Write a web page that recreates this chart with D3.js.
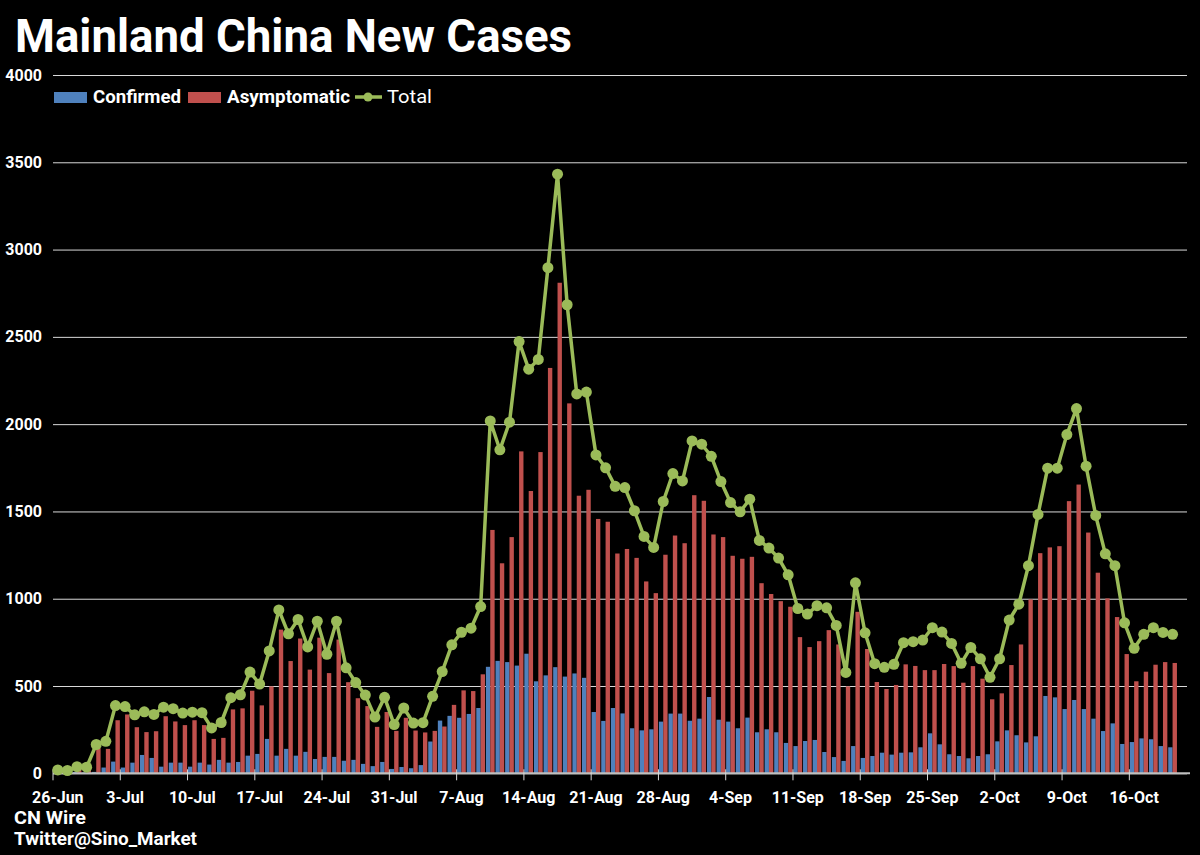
<!DOCTYPE html>
<html>
<head>
<meta charset="utf-8">
<script src="https://cdn.jsdelivr.net/npm/d3@7"></script>
<style>
  html, body { margin: 0; padding: 0; background: #000; }
  svg { display: block; font-family: Roboto, "Noto Sans", sans-serif; }
</style>
</head>
<body>
<div class="panel"></div>
<script>
const width = 1200;
const height = 855;
const margins = {top: 75, right: 13, bottom: 82, left: 53};

// 26-Jun .. 21-Oct (last category has no data)
const startDay = new Date(2022, 5, 26);
const endDay = new Date(2022, 9, 22);
const tickLabels = ["26-Jun", "3-Jul", "10-Jul", "17-Jul", "24-Jul", "31-Jul", "7-Aug", "14-Aug", "21-Aug",
  "28-Aug", "4-Sep", "11-Sep", "18-Sep", "25-Sep", "2-Oct", "9-Oct", "16-Oct"];
const yTicks = [0, 500, 1000, 1500, 2000, 2500, 3000, 3500, 4000];

const confirmed = [4, 3, 8, 5, 8, 33, 67, 33, 61, 105, 88, 38, 61, 61, 38, 61, 50, 77, 61, 65,
  101, 111, 197, 101, 140, 101, 123, 82, 94, 94, 72, 77, 54, 41, 65, 25, 36, 29, 47, 182,
  302, 329, 318, 340, 374, 610, 644, 637, 617, 685, 527, 561, 608, 554, 572, 547, 351, 300, 374, 343,
  258, 246, 252, 296, 342, 342, 301, 313, 437, 307, 296, 258, 319, 235, 252, 235, 174, 156, 185, 191,
  122, 93, 71, 156, 88, 99, 118, 107, 118, 120, 149, 229, 166, 109, 99, 86, 99, 109, 183, 246,
  218, 177, 212, 443, 435, 368, 420, 368, 313, 242, 286, 168, 179, 200, 195, 156, 149];

const asymptomatic = [12, 10, 25, 28, 144, 140, 304, 337, 264, 236, 241, 327, 297, 276, 304, 276, 197, 203, 366, 372,
  473, 389, 498, 823, 643, 772, 594, 777, 574, 766, 522, 430, 385, 266, 351, 243, 318, 245, 234, 243,
  268, 392, 475, 471, 567, 1394, 1203, 1353, 1844, 1617, 1840, 2322, 2810, 2119, 1590, 1624, 1457, 1441, 1259, 1285,
  1234, 1099, 1032, 1252, 1362, 1318, 1593, 1561, 1368, 1353, 1246, 1229, 1240, 1089, 1027, 986, 954, 780, 723, 757,
  820, 738, 498, 925, 712, 523, 483, 506, 624, 615, 591, 591, 626, 614, 519, 614, 542, 424, 458, 620,
  738, 996, 1261, 1294, 1301, 1559, 1654, 1379, 1149, 1002, 895, 683, 527, 582, 622, 637, 632];

const total = [19, 16, 38, 35, 165, 183, 388, 382, 335, 352, 337, 379, 370, 345, 350, 347, 260, 291, 433, 450,
  580, 511, 701, 936, 799, 881, 724, 871, 682, 871, 604, 520, 448, 322, 435, 279, 374, 288, 290, 441,
  583, 736, 808, 831, 955, 2018, 1853, 2011, 2473, 2315, 2371, 2896, 3432, 2684, 2173, 2184, 1824, 1750, 1644, 1637,
  1504, 1357, 1294, 1557, 1717, 1675, 1904, 1885, 1816, 1671, 1551, 1498, 1570, 1334, 1290, 1233, 1137, 944, 912, 960,
  948, 847, 578, 1091, 805, 628, 607, 624, 748, 754, 763, 834, 809, 744, 630, 721, 656, 550, 656, 878,
  969, 1189, 1483, 1748, 1748, 1940, 2089, 1759, 1477, 1257, 1189, 862, 716, 796, 834, 807, 796];

const colours = {confirmed: "#4f81bd", asymptomatic: "#c0504d", total: "#9bbb59"};

const days = d3.timeDay.range(startDay, endDay);

const svg = d3.select(".panel")
  .append("svg")
  .attr("width", width)
  .attr("height", height);

svg.append("rect").attr("width", width).attr("height", height).attr("fill", "#000");

const xScale = d3.scaleBand()
  .domain(d3.range(days.length))
  .range([margins.left, width - margins.right])
  .padding(0);

const subScale = d3.scaleBand()
  .domain(["confirmed", "asymptomatic"])
  .range([0, xScale.bandwidth()])
  .paddingInner(0)
  .paddingOuter(0.1);

const yScale = d3.scaleLinear()
  .domain([0, 4000])
  .range([height - margins.bottom + 0.3, margins.top]);

// gridlines + y labels
const yAxis = d3.axisLeft(yScale)
  .tickValues(yTicks)
  .tickSize(-(width - margins.left - margins.right))
  .tickPadding(11)
  .tickFormat(d3.format("d"));

const yG = svg.append("g")
  .attr("transform", `translate(${margins.left},0)`)
  .call(yAxis);
yG.select(".domain").remove();
yG.selectAll(".tick line").attr("stroke", "#d9d9d9").attr("stroke-width", 1);
yG.selectAll(".tick text")
  .attr("fill", "#fff")
  .attr("font-size", 16)
  .attr("font-weight", "bold")
  .attr("font-family", "Roboto, sans-serif");

// bars
const series = [
  {key: "confirmed", values: confirmed},
  {key: "asymptomatic", values: asymptomatic}
];

series.forEach(s => {
  svg.append("g")
    .selectAll("rect")
    .data(s.values)
    .enter()
    .append("rect")
    .attr("x", (d, i) => xScale(i) + subScale(s.key))
    .attr("y", d => yScale(d))
    .attr("width", subScale.bandwidth())
    .attr("height", d => yScale(0) - yScale(d))
    .attr("fill", colours[s.key]);
});

// x axis line + ticks
const x0 = xScale.range()[0], x1 = xScale.range()[1];
svg.append("line")
  .attr("x1", x0).attr("x2", x1 + 3)
  .attr("y1", yScale(0)).attr("y2", yScale(0))
  .attr("stroke", "#bfbfbf").attr("stroke-width", 2);

const tickIdx = tickLabels.map((t, k) => k * 7);
svg.append("g")
  .selectAll("line")
  .data(tickIdx)
  .enter()
  .append("line")
  .attr("x1", i => xScale(i)).attr("x2", i => xScale(i))
  .attr("y1", yScale(0) - 4).attr("y2", yScale(0) + 7)
  .attr("stroke", "#d9d9d9").attr("stroke-width", 1);

svg.append("g")
  .selectAll("text")
  .data(tickLabels)
  .enter()
  .append("text")
  .attr("x", (d, k) => xScale(k * 7) + xScale.bandwidth() / 2)
  .attr("y", yScale(0) + 30)
  .attr("text-anchor", "middle")
  .attr("fill", "#fff")
  .attr("font-size", 16)
  .attr("font-weight", "bold")
  .text(d => d);

// total line
const cx = i => xScale(i) + xScale.bandwidth() / 2;
const line = d3.line()
  .x((d, i) => cx(i))
  .y(d => yScale(d));

svg.append("path")
  .datum(total)
  .attr("d", line)
  .attr("fill", "none")
  .attr("stroke", colours.total)
  .attr("stroke-width", 3.5)
  .attr("stroke-linejoin", "round");

svg.append("g")
  .selectAll("circle")
  .data(total)
  .enter()
  .append("circle")
  .attr("cx", (d, i) => cx(i))
  .attr("cy", d => yScale(d))
  .attr("r", 5.5)
  .attr("fill", colours.total);

// title
svg.append("text")
  .attr("x", 15)
  .attr("y", 52)
  .attr("fill", "#fff")
  .attr("font-size", 47)
  .attr("font-weight", "bold")
  .attr("textLength", 557)
  .attr("lengthAdjust", "spacingAndGlyphs")
  .text("Mainland China New Cases");

// legend
const legend = svg.append("g").attr("transform", "translate(0,97)");
legend.append("rect").attr("x", 54).attr("y", -5).attr("width", 33).attr("height", 11).attr("fill", colours.confirmed);
legend.append("text").attr("x", 93).attr("y", 6).attr("fill", "#fff").attr("font-size", 18)
  .attr("font-weight", "bold").attr("textLength", 88).attr("lengthAdjust", "spacingAndGlyphs").text("Confirmed");
legend.append("rect").attr("x", 188).attr("y", -5).attr("width", 33).attr("height", 11).attr("fill", colours.asymptomatic);
legend.append("text").attr("x", 227).attr("y", 6).attr("fill", "#fff").attr("font-size", 18)
  .attr("font-weight", "bold").attr("textLength", 123).attr("lengthAdjust", "spacingAndGlyphs").text("Asymptomatic");
legend.append("line").attr("x1", 355).attr("x2", 382).attr("y1", 0).attr("y2", 0)
  .attr("stroke", colours.total).attr("stroke-width", 3.5);
legend.append("circle").attr("cx", 368).attr("cy", 0).attr("r", 4.5).attr("fill", colours.total);
legend.append("text").attr("x", 387).attr("y", 6).attr("fill", "#fff").attr("font-size", 18)
  .attr("textLength", 45).attr("lengthAdjust", "spacingAndGlyphs").text("Total");

// source
svg.append("text").attr("x", 14).attr("y", 824).attr("fill", "#fff").attr("font-size", 18)
  .attr("font-weight", "bold").attr("textLength", 72).attr("lengthAdjust", "spacingAndGlyphs").text("CN Wire");
svg.append("text").attr("x", 14).attr("y", 845).attr("fill", "#fff").attr("font-size", 18)
  .attr("font-weight", "bold").attr("textLength", 183).attr("lengthAdjust", "spacingAndGlyphs").text("Twitter@Sino_Market");
</script>
</body>
</html>
